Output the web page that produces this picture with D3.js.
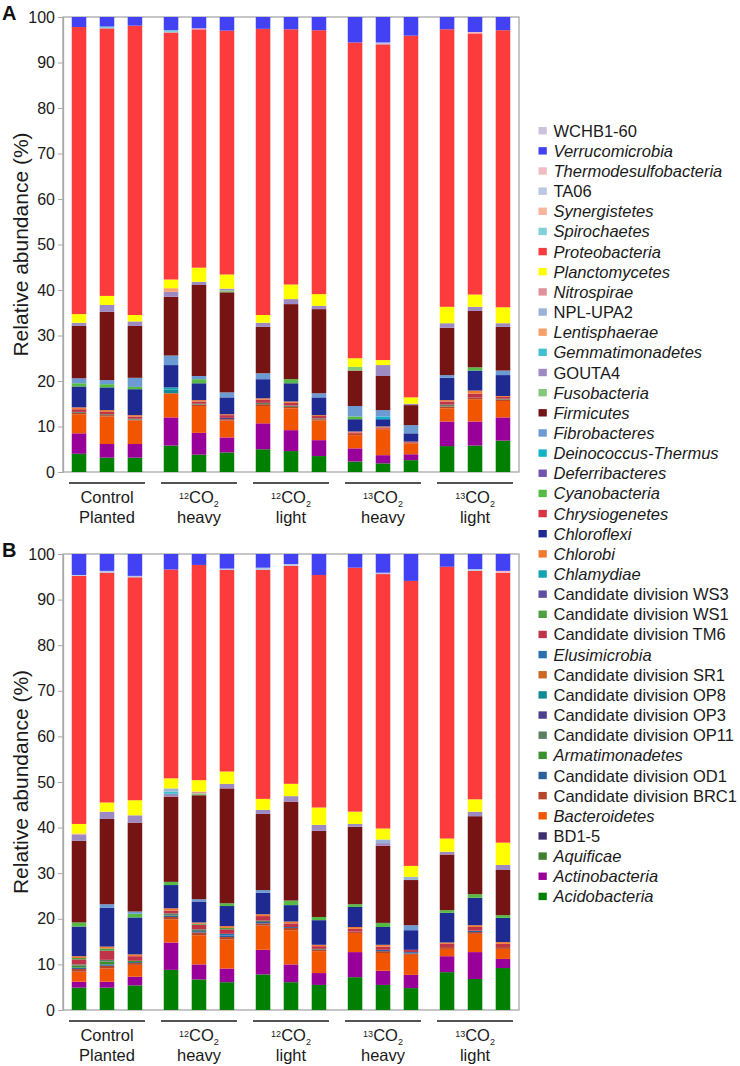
<!DOCTYPE html>
<html><head><meta charset="utf-8">
<script src="https://cdn.jsdelivr.net/npm/d3@7"></script>
<style>
html,body{margin:0;padding:0;background:#fff;}
svg{display:block;font-family:"Liberation Sans",Arial,sans-serif;}
</style></head>
<body>
<svg id="chart" width="740" height="1066"></svg>
<script>
// ---------- categories ----------
const groups = ["Control Planted", "12CO2 heavy", "12CO2 light", "13CO2 heavy", "13CO2 light"];
const groupIsotope = ["", "12", "12", "13", "13"];
const groupLine1 = ["Control", "CO", "CO", "CO", "CO"];
const groupLine2 = ["Planted", "heavy", "light", "heavy", "light"];
const replicates = ["r1", "r2", "r3"];
const yTicks = [0, 10, 20, 30, 40, 50, 60, 70, 80, 90, 100];

// stack order, bottom -> top (legend shows it reversed)
const phyla = [
  "Acidobacteria","Actinobacteria","Aquificae","BD1-5","Bacteroidetes",
  "Candidate division BRC1","Candidate division OD1","Armatimonadetes",
  "Candidate division OP11","Candidate division OP3","Candidate division OP8",
  "Candidate division SR1","Elusimicrobia","Candidate division TM6",
  "Candidate division WS1","Candidate division WS3","Chlamydiae","Chlorobi",
  "Chloroflexi","Chrysiogenetes","Cyanobacteria","Deferribacteres",
  "Deinococcus-Thermus","Fibrobacteres","Firmicutes","Fusobacteria","GOUTA4",
  "Gemmatimonadetes","Lentisphaerae","NPL-UPA2","Nitrospirae","Planctomycetes",
  "Proteobacteria","Spirochaetes","Synergistetes","TA06","Thermodesulfobacteria",
  "Verrucomicrobia","WCHB1-60"
];
const phylaColors = [
  "#008000","#990099","#3f7f2f","#3f2f6f","#f25500",
  "#b5462a","#2c5f9e","#3c8f2f",
  "#5a8060","#4b3f8f","#108a96",
  "#cc6622","#2a6fb0","#c0344a",
  "#4ca040","#5f4fa0","#10a3b3","#f27a30",
  "#1e2a92","#d83445","#55bb44","#7052b0",
  "#12b3c8","#6c9ad2","#761414","#82c97a","#9d8ac2",
  "#42c0d0","#f8a06a","#9ab2d6","#e0929a","#ffff00",
  "#fc3c3c","#82d0d8","#f9b49c","#b8c8e2","#f2bcc4",
  "#4242f4","#cbc2dd"
];
const nonItalic = ["BD1-5","Candidate division BRC1","Candidate division OD1",
  "Candidate division OP11","Candidate division OP3","Candidate division OP8",
  "Candidate division SR1","Candidate division TM6","Candidate division WS1",
  "Candidate division WS3","GOUTA4","NPL-UPA2","TA06","WCHB1-60"];

// ---------- panel A values (%), 15 bars ----------
const A_Acidobacteria   = [4.0,3.15,3.15,5.8,3.8,4.3,5.0,4.6,3.5,2.3,1.9,2.6,5.7,5.8,6.9];
const A_Actinobacteria  = [4.5,3.0,3.0,6.2,4.8,3.3,5.7,4.6,3.5,2.9,1.8,1.3,5.4,5.3,5.1];
const A_Bacteroidetes   = [4.2,6.05,5.15,5.3,5.9,3.7,3.8,4.8,4.3,2.9,5.7,2.4,2.9,4.9,3.6];
const A_BRC1            = [0.3,0.3,0.2,0,0.3,0.3,0.4,0.3,0.3,0.3,0.2,0.2,0.4,0.4,0.3];
const A_OP11            = [0.2,0.2,0.2,0,0.2,0,0.3,0.3,0.2,0,0,0,0.4,0,0.2];
const A_OP3             = [0,0,0,0,0,0.3,0,0,0,0,0,0,0,0,0];
const A_OP8             = [0,0,0,0.8,0,0,0,0,0,0,0,0,0,0,0];
const A_TM6             = [0.6,0.5,0.5,0,0.5,0.6,0.7,0.6,0.5,0.3,0.2,0.2,0.7,0.8,0.4];
const A_Chlamydiae      = [0,0,0,0.5,0,0,0,0,0,0,0,0,0,0,0];
const A_Chlorobi        = [0.4,0.4,0.3,0,0.3,0.2,0.3,0.3,0.2,0.2,0.2,0,0.3,0.7,0.2];
const A_Chloroflexi     = [4.6,5.0,5.7,4.9,3.7,3.7,4.2,4.0,3.9,2.7,1.6,1.8,4.9,4.4,4.6];
const A_Cyanobacteria   = [0.7,0.7,0.5,0,0.9,0,0,0.9,0,0.6,0,0,0,0.7,0];
const A_Deinococcus     = [0,0,0,0,0,0,0,0,0,0,0.6,0,0,0,0];
const A_Fibrobacteres   = [1.1,0.9,2.0,2.1,0.7,1.1,1.3,0,0.9,2.3,1.4,1.8,0.6,0,1.0];
const A_Firmicutes      = [11.5,15.0,11.4,12.9,20.0,22.0,10.2,16.5,18.5,7.8,7.5,4.4,10.4,12.4,9.6];
const A_Fusobacteria    = [0,0,0,0,0,0.4,0,0,0,0.8,0,0,0,0,0];
const A_GOUTA4          = [0.7,1.5,1.0,1.1,0.7,0.4,0.9,1.1,0.7,0,2.4,0.3,1.0,0.9,0.8];
const A_Lentisphaerae   = [0,0,0,0.8,0,0,0,0,0,0,0,0,0,0,0];
const A_Planctomycetes  = [1.9,2.0,1.4,1.9,3.1,3.1,1.7,3.2,2.6,1.9,1.1,1.4,3.6,2.7,3.5];
const A_Proteobacteria  = [63.1,58.8,63.6,54.3,52.4,53.6,62.9,56.1,58.0,69.4,69.4,79.5,61.0,57.4,60.9];
const A_Spirochaetes    = [0,0.4,0,0.5,0,0,0,0,0,0,0,0,0,0,0];
const A_TA06            = [0,0,0,0,0,0,0,0,0,0,0.4,0,0,0,0];
const A_Thermodesulfo   = [0,0,0,0,0.2,0,0,0,0,0,0,0,0,0.3,0];
const A_Verrucomicrobia = [2.2,2.1,1.9,2.9,2.5,3.0,2.6,2.7,2.9,5.6,5.6,4.1,2.7,3.3,2.9];

// ---------- panel B values (%), 15 bars ----------
const B_Acidobacteria   = [4.9,4.9,5.4,8.8,6.7,6.1,7.8,6.1,5.5,7.2,5.5,4.8,8.3,6.8,9.2];
const B_Actinobacteria  = [1.3,1.3,1.9,6.0,3.3,3.0,5.4,3.9,2.6,5.5,3.1,2.9,3.5,5.9,2.0];
const B_Bacteroidetes   = [2.2,2.9,2.6,5.1,6.4,6.4,5.3,7.5,4.8,4.2,3.9,4.4,1.6,4.0,2.2];
const B_BRC1            = [0.6,0.6,0.4,0.5,0.6,0.5,0.5,0.5,0.3,0.3,0.4,0.3,0.4,0.4,0.4];
const B_OD1             = [0.3,0.3,0.2,0.3,0.3,0.3,0.3,0.2,0,0,0.3,0,0,0.3,0];
const B_Armatimonadetes = [0.4,0.6,0.3,0,0,0,0,0,0,0,0,0,0,0,0];
const B_OP11            = [0.3,0.4,0,0.5,0.4,0,0.3,0,0.2,0,0,0,0,0,0];
const B_Elusimicrobia   = [0,0,0,0,0,0.4,0,0,0,0,0,0.3,0,0,0];
const B_TM6             = [1.1,2.0,1.0,0.6,1.0,1.0,1.0,0.8,0.6,0.6,0.7,0.5,0.7,0.8,0.7];
const B_WS1             = [0.3,0.5,0,0,0.2,0.3,0,0,0,0,0,0,0,0,0];
const B_Chlorobi        = [0.4,0.4,0.4,0.5,0.3,0.4,0.4,0.4,0.3,0.4,0.4,0,0.3,0.4,0.4];
const B_Chloroflexi     = [6.5,8.5,8.1,5.1,4.6,4.4,4.7,3.6,5.4,4.4,3.9,4.3,6.5,6.0,5.3];
const B_Cyanobacteria   = [0.9,0,0.8,0.7,0,0.6,0,1.0,0.7,0.6,0.9,0,0.6,0.8,0.6];
const B_Fibrobacteres   = [0,0.8,0.5,0,0.5,0,0.6,0,0,0,0,1.1,0,0,0];
const B_Firmicutes      = [17.9,18.7,19.5,18.7,22.8,25.2,16.7,21.7,18.9,17.0,16.9,9.9,12.2,17.1,9.9];
const B_Fusobacteria    = [0,0,0,0,0.4,0,0,0,0,0,0,0,0,0,0];
const B_GOUTA4          = [1.4,1.6,1.6,0.6,0,1.0,0.9,1.2,1.3,0.6,0.6,0,0.6,1.0,1.1];
const B_Gemmatimonadetes= [0,0,0,0.5,0,0,0,0,0,0,0,0,0,0,0];
const B_Lentisphaerae   = [0.2,0,0,0,0,0,0,0,0,0,0,0,0,0,0];
const B_NPLUPA2         = [0,0,0,0.7,0,0,0,0,0,0,0.8,0.7,0,0,0];
const B_Nitrospirae     = [0,0,0,0,0.4,0,0,0,0,0,0,0,0,0,0];
const B_Planctomycetes  = [2.1,2.0,3.3,2.2,2.5,2.7,2.4,2.7,3.8,2.7,2.4,2.4,2.9,2.7,4.9];
const B_Proteobacteria  = [54.4,50.4,48.9,45.8,47.2,44.2,50.2,47.8,51.0,53.5,55.8,62.5,59.6,50.1,59.2];
const B_TA06            = [0.2,0.4,0.3,0,0,0.3,0.5,0.4,0,0,0.3,0,0,0.4,0];
const B_Thermodesulfo   = [0,0,0,0,0,0,0,0,0,0,0,0,0,0,0.4];
const B_Verrucomicrobia = [4.6,3.7,4.8,3.4,2.4,3.2,3.0,2.2,4.6,3.0,4.1,5.9,2.8,3.3,3.7];

const panelAData = {
  "Acidobacteria": A_Acidobacteria, "Actinobacteria": A_Actinobacteria,
  "Bacteroidetes": A_Bacteroidetes, "Candidate division BRC1": A_BRC1,
  "Candidate division OP11": A_OP11, "Candidate division OP3": A_OP3,
  "Candidate division OP8": A_OP8, "Candidate division TM6": A_TM6,
  "Chlamydiae": A_Chlamydiae, "Chlorobi": A_Chlorobi, "Chloroflexi": A_Chloroflexi,
  "Cyanobacteria": A_Cyanobacteria, "Deinococcus-Thermus": A_Deinococcus,
  "Fibrobacteres": A_Fibrobacteres, "Firmicutes": A_Firmicutes,
  "Fusobacteria": A_Fusobacteria, "GOUTA4": A_GOUTA4, "Lentisphaerae": A_Lentisphaerae,
  "Planctomycetes": A_Planctomycetes, "Proteobacteria": A_Proteobacteria,
  "Spirochaetes": A_Spirochaetes, "TA06": A_TA06,
  "Thermodesulfobacteria": A_Thermodesulfo, "Verrucomicrobia": A_Verrucomicrobia
};
const panelBData = {
  "Acidobacteria": B_Acidobacteria, "Actinobacteria": B_Actinobacteria,
  "Bacteroidetes": B_Bacteroidetes, "Candidate division BRC1": B_BRC1,
  "Candidate division OD1": B_OD1, "Armatimonadetes": B_Armatimonadetes,
  "Candidate division OP11": B_OP11, "Elusimicrobia": B_Elusimicrobia,
  "Candidate division TM6": B_TM6, "Candidate division WS1": B_WS1,
  "Chlorobi": B_Chlorobi, "Chloroflexi": B_Chloroflexi,
  "Cyanobacteria": B_Cyanobacteria, "Fibrobacteres": B_Fibrobacteres,
  "Firmicutes": B_Firmicutes, "Fusobacteria": B_Fusobacteria, "GOUTA4": B_GOUTA4,
  "Gemmatimonadetes": B_Gemmatimonadetes, "Lentisphaerae": B_Lentisphaerae,
  "NPL-UPA2": B_NPLUPA2, "Nitrospirae": B_Nitrospirae,
  "Planctomycetes": B_Planctomycetes, "Proteobacteria": B_Proteobacteria,
  "TA06": B_TA06, "Thermodesulfobacteria": B_Thermodesulfo,
  "Verrucomicrobia": B_Verrucomicrobia
};

// ---------- drawing ----------
const svg = d3.select("#chart");
const color = d3.scaleOrdinal().domain(phyla).range(phylaColors);
const plotLeft = 63, plotRight = 519;

const x0 = d3.scaleBand().domain(groups).range([plotLeft, plotRight])
  .paddingInner(0.234).paddingOuter(0.095);
const x1 = d3.scaleBand().domain(replicates).range([0, x0.bandwidth()])
  .paddingInner(0.48).paddingOuter(0);

function drawPanel(data, yTop, yBottom, letter) {
  const y = d3.scaleLinear().domain([0, 100]).range([yBottom, yTop]);
  const rows = [];
  groups.forEach((g, gi) => replicates.forEach((r, ri) => {
    const i = gi * 3 + ri;
    const row = { group: g, rep: r };
    phyla.forEach(p => { row[p] = data[p] ? data[p][i] : 0; });
    rows.push(row);
  }));
  const layers = d3.stack().keys(phyla)(rows);
  const g = svg.append("g");

  g.append("rect")
    .attr("x", plotLeft).attr("y", y(100))
    .attr("width", plotRight - plotLeft).attr("height", y(0) - y(100))
    .attr("fill", "none").attr("stroke", "#a8a8a8").attr("stroke-width", 1.3);

  g.selectAll("g.layer").data(layers).join("g").attr("class", "layer")
    .attr("fill", d => color(d.key))
    .selectAll("rect").data(d => d.filter(s => s[1] - s[0] > 0)).join("rect")
    .attr("x", d => x0(d.data.group) + x1(d.data.rep))
    .attr("width", x1.bandwidth())
    .attr("y", d => y(d[1]))
    .attr("height", d => y(d[0]) - y(d[1]));

  const ax = g.append("g").attr("transform", `translate(${plotLeft},0)`)
    .call(d3.axisLeft(y).tickValues(yTicks).tickSize(5).tickPadding(3).tickSizeOuter(0));
  ax.select(".domain").attr("stroke", "#a8a8a8").attr("stroke-width", 1.3);
  ax.selectAll(".tick line").attr("stroke", "#a8a8a8");
  ax.selectAll(".tick text").attr("font-size", 16).attr("fill", "#1a1a1a")
    .attr("font-family", "Liberation Sans, Arial, sans-serif");

  g.append("text")
    .attr("transform", `translate(20,${(y(0) + y(100)) / 2}) rotate(-90)`)
    .attr("text-anchor", "middle").attr("dominant-baseline", "central")
    .attr("font-size", 21).attr("fill", "#1a1a1a")
    .text("Relative abundance (%)");

  g.append("text").attr("x", 2).attr("y", yTop + 3)
    .attr("font-size", 20).attr("font-weight", "bold").attr("fill", "#111")
    .text(letter);

  groups.forEach((gname, gi) => {
    const cx = x0(gname) + x0.bandwidth() / 2;
    g.append("line")
      .attr("x1", cx - 38).attr("x2", cx + 38)
      .attr("y1", yBottom + 11).attr("y2", yBottom + 11)
      .attr("stroke", "#1a1a1a").attr("stroke-width", 1.5);
    const t1 = g.append("text").attr("x", cx).attr("y", yBottom + 31)
      .attr("text-anchor", "middle").attr("font-size", 16.5).attr("fill", "#1a1a1a");
    if (groupIsotope[gi]) {
      t1.append("tspan").attr("font-size", 9).attr("dy", -4.5).text(groupIsotope[gi]);
      t1.append("tspan").attr("dy", 4.5).text(groupLine1[gi]);
      t1.append("tspan").attr("font-size", 9).attr("dy", 3.5).text("2");
    } else {
      t1.text(groupLine1[gi]);
    }
    g.append("text").attr("x", cx).attr("y", yBottom + 51)
      .attr("text-anchor", "middle").attr("font-size", 16.5).attr("fill", "#1a1a1a")
      .text(groupLine2[gi]);
  });
}

drawPanel(panelAData, 17, 472, "A");
drawPanel(panelBData, 554, 1010, "B");

// ---------- legend ----------
const legendOrder = phyla.slice().reverse();
const leg = svg.append("g");
const legItems = leg.selectAll("g").data(legendOrder).join("g")
  .attr("transform", (d, i) => `translate(538.5,${130.7 + i * 20.15})`);
legItems.append("rect").attr("x", 0).attr("y", -3.7).attr("width", 8.3).attr("height", 7.4)
  .attr("fill", d => color(d));
legItems.append("text").attr("x", 15).attr("y", 0).attr("dominant-baseline", "central")
  .attr("font-size", 16.5).attr("fill", "#1a1a1a")
  .attr("font-style", d => nonItalic.includes(d) ? "normal" : "italic")
  .text(d => d);
</script>
</body></html>
